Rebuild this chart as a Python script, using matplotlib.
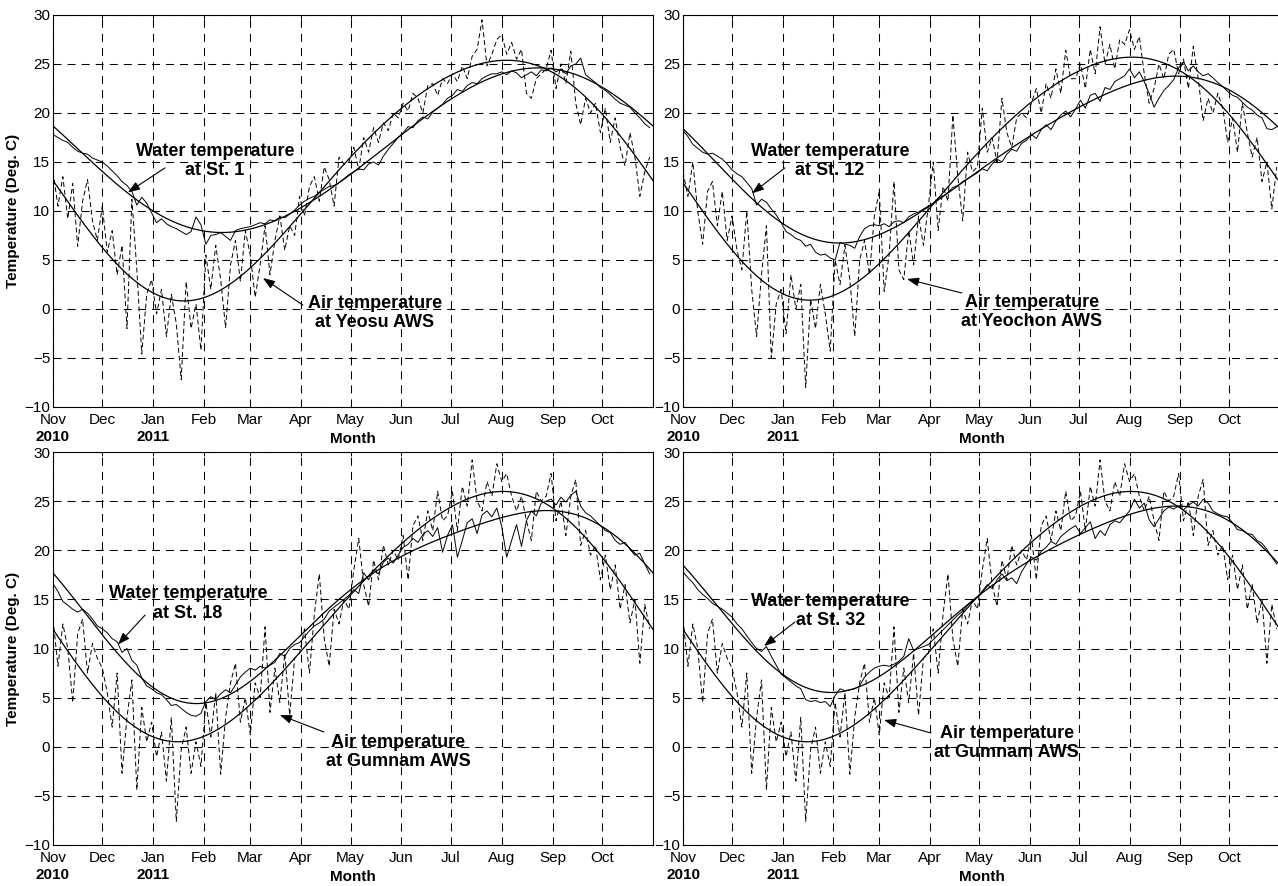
import numpy as np
import matplotlib
matplotlib.use("Agg")
import matplotlib.pyplot as plt
from matplotlib import font_manager
from matplotlib.transforms import blended_transform_factory

# ---- observations, one value every 3 days from 1 Nov 2010 (day 0) ----
obs_days = np.arange(0, 366, 3)

# air temperature, Yeosu AWS
air_yeosu = [
    14.0, 10.5, 13.5, 9.2, 12.8, 6.4, 11.0, 13.2, 9.0, 7.0,
    10.5, 5.8, 8.0, 3.5, 6.5, -2.0, 11.2, 4.0, -4.6, 1.5,
    3.0, -0.5, 2.0, -2.8, 1.5, -1.5, -7.2, 2.8, -2.0, 0.5,
    -4.2, 5.5, 2.0, 6.5, 3.0, -1.9, 4.5, 7.0, 2.8, 8.0,
    5.5, 1.2, 4.5, 8.5, 3.5, 7.0, 9.5, 6.0, 8.5, 7.5,
    11.5, 9.5, 12.5, 13.5, 11.0, 14.5, 13.2, 10.5, 15.5, 14.8,
    15.0, 16.5, 14.2, 17.5, 16.0, 18.5, 17.0, 19.0, 18.2, 20.0,
    19.5, 21.0, 20.2, 22.0, 21.5, 20.0, 22.8, 23.0, 21.8, 23.5,
    23.0, 24.0, 23.2, 24.8, 23.5, 25.8, 26.5, 29.5, 24.8, 26.0,
    27.5, 28.0, 26.0, 27.2, 25.5, 26.5, 22.0, 21.5, 23.5, 24.0,
    24.5, 26.4, 22.5, 25.0, 23.0, 26.3, 21.0, 18.8, 21.5, 20.0,
    21.0, 18.0, 20.5, 17.0, 19.5, 16.5, 14.6, 18.0, 15.5, 11.5, 14.0, 15.5,
]

# air temperature, Yeochon AWS
air_yeochon = [
    14.0, 11.5, 15.0, 10.0, 6.6, 12.0, 13.0, 8.5, 12.0, 7.0,
    9.5, 6.0, 4.0, 10.0, 2.0, -2.8, 3.5, 8.5, -5.0, 0.5,
    2.0, -2.5, 3.5, 0.0, 2.5, -8.0, 1.0, -2.0, 2.5, -0.5,
    -4.3, 5.0, 2.5, 6.5, 3.0, -2.8, 5.0, 7.0, 3.5, 9.5,
    12.0, 1.8, 5.5, 13.0, 4.0, 3.0, 8.0, 4.5, 9.5, 6.5,
    10.5, 15.0, 8.0, 12.5, 11.0, 19.8, 13.5, 9.0, 16.0, 14.0,
    14.5, 20.5, 16.0, 17.5, 15.0, 21.5, 18.0, 16.5, 19.5, 20.0,
    19.5, 21.0, 22.5, 20.0, 23.0, 21.5, 24.5, 22.0, 26.4, 23.5,
    23.5, 25.0, 22.5, 26.5, 24.0, 28.8, 25.0, 27.0, 24.5, 27.5,
    27.0, 28.5, 26.5, 27.8, 24.0, 21.0, 22.5, 25.0, 23.5, 26.0,
    26.5, 24.0, 25.5, 22.5, 26.8, 23.5, 19.2, 21.5, 20.0, 22.0,
    20.5, 17.0, 19.5, 16.0, 21.0, 18.0, 15.5, 17.5, 13.0, 15.0, 10.2, 14.5,
]

# air temperature, Gumnam AWS
air_gumnam = [
    13.0, 8.2, 12.5, 10.0, 4.5, 11.5, 13.0, 7.5, 10.5, 9.0,
    8.0, 5.5, 2.0, 7.5, -2.7, 3.0, 6.8, -4.4, 4.0, 0.5,
    2.5, -1.0, 1.5, -3.5, 3.0, -7.6, -0.3, 2.0, -2.7, 0.5,
    -2.0, 4.5, 1.0, 5.5, -2.8, 3.0, 6.5, 8.5, 2.5, 5.0,
    1.2, 6.5, 5.0, 12.2, 3.5, 8.0, 4.5, 9.5, 3.2, 9.0,
    9.5, 12.0, 7.5, 13.5, 17.6, 11.0, 8.2, 14.0, 12.5, 15.0,
    14.0, 18.0, 21.2, 16.5, 14.3, 19.0, 17.0, 20.5, 18.5, 20.0,
    19.0, 21.5, 17.0, 22.5, 23.5, 21.0, 24.0, 22.0, 26.0, 23.0,
    23.5, 26.0, 22.0, 26.5, 24.5, 29.2, 25.0, 24.0, 27.0, 25.5,
    28.8, 27.0, 27.8, 25.5, 24.0, 25.5, 23.0, 21.0, 26.0, 25.0,
    25.5, 27.8, 23.0, 25.0, 21.5, 25.5, 27.2, 20.5, 22.0, 19.5,
    20.5, 17.0, 19.5, 16.0, 18.5, 14.0, 16.5, 12.6, 15.0, 8.5, 14.5, 12.0,
]

# water temperature at the stations
water_st1 = [
    17.8, 17.5, 17.2, 17.0, 16.5, 16.1, 15.9, 15.8, 15.4, 15.2,
    15.0, 14.6, 14.1, 13.6, 13.0, 12.6, 12.0, 10.6, 11.4, 10.8,
    9.8, 8.8, 9.2, 8.7, 8.4, 8.2, 7.9, 7.6, 7.9, 9.4,
    8.6, 6.6, 7.5, 7.6, 7.8, 7.4, 7.0, 8.0, 8.2, 8.3,
    8.4, 8.6, 8.8, 8.7, 9.1, 9.0, 9.4, 9.3, 9.7, 10.1,
    10.6, 11.0, 11.3, 11.5, 11.9, 12.2, 12.5, 12.6, 12.9, 13.3,
    13.7, 14.0, 14.3, 14.2, 14.8, 15.0, 14.7, 15.6, 16.3, 16.9,
    17.5, 18.0, 18.6, 18.5, 19.2, 19.6, 19.4, 20.1, 20.5, 20.9,
    21.5, 21.8, 22.4, 22.2, 22.8, 23.1, 23.0, 23.5, 23.8, 24.0,
    24.0, 24.2, 23.9, 24.3, 24.1, 23.6, 23.9, 24.2, 23.8, 24.4,
    24.3, 24.6, 24.2, 24.5, 24.0, 24.8, 25.0, 25.6, 23.9, 23.5,
    23.1, 22.6, 22.3, 21.9, 21.4, 21.0, 20.8, 20.6, 20.0, 19.5, 18.9, 18.5,
]

water_st12 = [
    18.2, 17.6, 16.8, 16.4, 16.0, 15.8, 15.9, 15.6, 15.3, 14.8,
    14.2, 13.8, 13.5, 12.9, 12.3, 10.6, 11.2, 10.9, 10.2, 9.6,
    8.8, 7.9, 7.6, 7.2, 7.0, 6.4, 6.6, 5.8, 5.5, 5.6,
    5.2, 5.0, 6.8, 6.6, 6.5, 6.2, 7.4, 8.2, 8.5, 8.6,
    8.5, 8.7, 8.4, 8.9, 9.0, 8.8, 9.4, 9.7, 9.9, 10.2,
    10.5, 10.8, 11.3, 11.5, 11.9, 12.4, 12.6, 13.0, 13.3, 13.6,
    13.9, 14.3, 14.1, 14.8, 15.3, 15.0, 15.8, 16.3, 16.1, 16.9,
    17.2, 17.8, 17.4, 18.3, 18.8, 18.3, 19.2, 19.8, 20.2, 19.6,
    20.4, 21.3, 20.5, 21.8, 22.0, 21.2, 22.6, 22.4, 23.2, 23.5,
    23.8, 24.5, 23.6, 24.2, 23.2, 22.0, 20.6, 21.5, 22.3, 22.8,
    23.4, 24.6, 25.2, 24.3, 24.8, 24.2, 23.8, 24.0, 23.6, 23.1,
    22.7, 22.2, 21.8, 21.6, 21.1, 20.6, 20.3, 19.8, 19.5, 18.4, 18.3, 18.6,
]

water_st18 = [
    16.6, 15.8, 14.8, 14.4, 14.0, 13.7, 14.0, 13.6, 13.0, 12.3,
    12.0, 11.6, 11.0, 10.7, 9.6, 10.0, 8.8, 8.3, 7.0, 6.2,
    5.9, 5.5, 5.3, 4.8, 4.2, 4.3, 3.9, 3.5, 3.2, 3.1,
    3.4, 4.6, 5.1, 4.8, 5.4, 5.8, 5.5, 6.3, 7.1, 7.6,
    8.0, 7.8, 8.2, 8.0, 8.3, 8.6, 9.5, 9.2, 10.0, 10.4,
    10.6, 11.2, 11.8, 12.3, 12.6, 13.0, 13.8, 14.2, 14.6, 15.0,
    15.4, 16.0, 15.6, 17.7, 17.0, 18.0, 17.6, 18.8, 19.2, 18.7,
    19.5, 20.3, 20.6, 21.2, 20.8, 21.6, 22.0, 21.4, 22.3, 19.8,
    21.5, 22.6, 19.3, 21.0, 22.8, 23.2, 21.7, 23.6, 24.0, 23.4,
    24.3, 22.4, 19.3, 21.0, 22.6, 20.4, 23.0, 24.0, 23.5, 24.8,
    25.0, 25.2, 24.6, 25.4, 24.9, 25.6, 26.0, 24.5, 23.8, 23.5,
    23.0, 22.5, 22.0, 21.8, 21.0, 20.6, 20.8, 20.1, 19.5, 19.7, 18.6, 17.6,
]

water_st32 = [
    17.8, 17.2, 16.7, 16.0, 15.5, 15.1, 14.6, 14.3, 14.0, 13.6,
    13.2, 12.5, 12.0, 11.3, 10.6, 10.0, 9.7, 10.2, 9.2, 8.3,
    7.4, 7.0, 6.6, 6.2, 5.9, 4.8, 4.6, 4.7, 4.5, 4.6,
    4.1, 5.2, 5.9, 5.7, 5.8, 5.9, 6.2, 7.1, 7.6, 8.0,
    8.2, 8.3, 8.2, 8.4, 8.7, 9.2, 11.0, 9.8, 10.0, 10.2,
    10.4, 10.9, 11.4, 11.9, 12.4, 12.9, 13.4, 13.8, 14.4, 14.8,
    15.2, 15.8, 16.5, 16.1, 17.0, 17.6, 16.9, 17.2, 16.6, 17.8,
    18.6, 19.3, 19.0, 19.9, 20.3, 20.9, 20.6, 21.4, 21.8, 22.2,
    22.5, 21.7, 22.3, 22.9, 21.2, 22.0, 21.5, 22.6, 23.0, 22.8,
    23.4, 24.0, 25.2, 24.3, 24.8, 23.1, 22.4, 23.2, 24.0, 24.4,
    24.2, 24.5, 24.1, 24.6, 24.9, 24.5, 25.2, 24.8, 24.0, 23.7,
    23.5, 23.4, 22.8, 22.1, 22.0, 21.7, 21.6, 21.0, 20.7, 20.1, 19.3, 18.6,
]

month_names = ["Nov", "Dec", "Jan", "Feb", "Mar", "Apr",
               "May", "Jun", "Jul", "Aug", "Sep", "Oct"]

# day offsets of the first of each month
start = np.datetime64("2010-11-01")
months = np.arange(np.datetime64("2010-11"), np.datetime64("2011-11"), np.timedelta64(1, "M"))
month_days = (months.astype("datetime64[D]") - start).astype(int)
year_days = {"2010": 0, "2011": int(month_days[2])}

# (water, air, water label, air label, label placement)
panels = [
    (water_st1, air_yeosu, "Water temperature\nat St. 1", "Air temperature\nat Yeosu AWS",
     dict(wt=(98.5, 15.1), wtip=(45.6, 11.9), wtail=(68.1, 14.4),
          at=(195.9, -0.4), atip=(127.7, 3.16), atail=(152.0, 0.4))),
    (water_st12, air_yeochon, "Water temperature\nat St. 12", "Air temperature\nat Yeochon AWS",
     dict(wt=(89.9, 15.1), wtip=(42.2, 11.8), wtail=(62.3, 14.4),
          at=(213.3, -0.3), atip=(136.9, 3.06), atail=(170.5, 1.63))),
    (water_st18, air_gumnam, "Water temperature\nat St. 18", "Air temperature\nat Gumnam AWS",
     dict(wt=(82.0, 14.6), wtip=(39.5, 10.4), wtail=(56.0, 13.4),
          at=(209.9, -0.53), atip=(138.0, 3.23), atail=(164.8, 1.5))),
    (water_st32, air_gumnam, "Water temperature\nat St. 32", "Air temperature\nat Gumnam AWS",
     dict(wt=(90.0, 13.8), wtip=(49.5, 10.25), wtail=(68.5, 12.7),
          at=(198.0, 0.38), atip=(122.9, 2.72), atail=(151.6, 1.4))),
]


def harmonic_fit(days, temps, grid):
    """Least-squares annual + semi-annual harmonic fit."""
    w = 2 * np.pi / 365.0

    def design(t):
        t = np.asarray(t, dtype=float)
        return np.column_stack([np.ones_like(t), np.cos(w * t), np.sin(w * t),
                                np.cos(2 * w * t), np.sin(2 * w * t)])

    coef, *_ = np.linalg.lstsq(design(days), np.asarray(temps), rcond=None)
    return design(grid) @ coef


plt.rcParams["font.family"] = ["Liberation Sans", "DejaVu Sans"]
installed = {f.name for f in font_manager.fontManager.ttflist}
if "Liberation Sans Narrow" in installed:
    note_font = dict(family=["Liberation Sans Narrow", "Liberation Sans"], size=15)
    small_bold = dict(family=["Liberation Sans Narrow", "Liberation Sans"], size=13)
else:
    note_font = dict(family=["Liberation Sans", "DejaVu Sans"], size=13)
    small_bold = dict(family=["Liberation Sans", "DejaVu Sans"], size=11)

W, H = 1278, 886
fig = plt.figure(figsize=(W / 100, H / 100), dpi=100)

# axes boxes in pixels: left, top, width, height
boxes = [(53, 15, 600, 392), (683, 15, 597, 392),
         (53, 452, 600, 393), (683, 452, 597, 393)]

grid = np.linspace(0, 365, 366)
arrow = dict(arrowstyle="-|>,head_length=0.6,head_width=0.22", color="k",
             lw=0.8, mutation_scale=12, shrinkA=0, shrinkB=0)

for k, ((water, air, wlabel, alabel, pos), (px, py, pw, ph)) in enumerate(zip(panels, boxes)):
    ax = fig.add_axes([px / W, 1 - (py + ph) / H, pw / W, ph / H])
    ax.set_axisbelow(True)

    ax.plot(obs_days, air, color="k", lw=0.7, linestyle=(0, (5, 3)))
    ax.plot(obs_days, water, color="k", lw=0.7)
    ax.plot(grid, harmonic_fit(obs_days, air, grid), color="k", lw=0.9)
    ax.plot(grid, harmonic_fit(obs_days, water, grid), color="k", lw=0.9)

    ax.set_xlim(0, 365)
    ax.set_ylim(-10, 30)
    ax.set_xticks(month_days)
    ax.set_xticklabels(month_names)
    ax.set_yticks(np.arange(-10, 31, 5))
    ax.tick_params(direction="in", length=3, width=0.7, top=True, right=True,
                   labelsize=11, colors="k")
    ax.tick_params(axis="x", pad=4)
    ax.tick_params(axis="y", pad=2)
    ax.grid(True, color="k", linestyle=(0, (7.7, 5.8)), linewidth=0.75)
    for s in ax.spines.values():
        s.set_linewidth(0.8)

    if k % 2 == 0:
        ax.set_ylabel("Temperature (Deg. C)", fontweight="bold", fontsize=11)
        ax.yaxis.set_label_coords(-33 / pw, 0.5)

    ax.text(0.5, -32 / ph, "Month", transform=ax.transAxes, ha="center", va="center",
            fontweight="bold", **small_bold)
    trans = blended_transform_factory(ax.transData, ax.transAxes)
    for year, d in year_days.items():
        ax.text(d, -30 / ph, year, transform=trans, ha="center", va="center",
                fontweight="bold", **small_bold)

    ax.annotate("", xy=pos["wtip"], xytext=pos["wtail"], arrowprops=arrow)
    ax.text(*pos["wt"], wlabel, ha="center", va="center", multialignment="center",
            fontweight="bold", linespacing=1.2, **note_font)
    ax.annotate("", xy=pos["atip"], xytext=pos["atail"], arrowprops=arrow)
    ax.text(*pos["at"], alabel, ha="center", va="center", multialignment="center",
            fontweight="bold", linespacing=1.2, **note_font)

fig.savefig("out.png", dpi=100)
